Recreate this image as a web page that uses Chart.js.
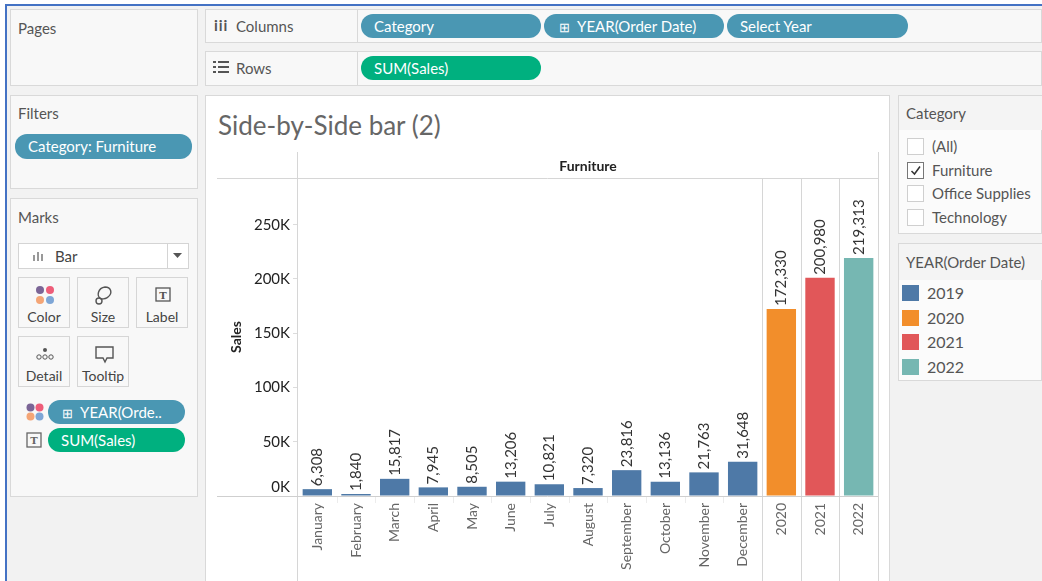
<!DOCTYPE html>
<html>
<head>
<meta charset="utf-8">
<script src="https://cdn.jsdelivr.net/npm/chart.js@4.4.1/dist/chart.umd.min.js"></script>
<style>
  html,body{margin:0;padding:0;}
  body{width:1042px;height:581px;overflow:hidden;background:#fff;position:relative;font-family:Lato,"Noto Sans",sans-serif;color:#555;}
  .frame{position:absolute;left:5px;top:4px;width:1037px;height:577px;border-left:2px solid #4472c4;border-top:2px solid #4472c4;background:#f2f2f2;box-sizing:border-box;}
  .panel{position:absolute;background:#f8f8f8;border:1px solid #d9d9d9;box-sizing:border-box;}
  .t{position:absolute;white-space:nowrap;line-height:1;}
  .pill{position:absolute;height:24px;border-radius:12px;color:#fff;font-size:15px;line-height:24px;box-sizing:border-box;padding-left:13px;white-space:nowrap;overflow:hidden;}
  .blue{background:#4a97b3;}
  .green{background:#00b07f;}
  .btn{position:absolute;width:52px;height:51px;border:1px solid #d6d6d6;background:#f8f8f8;box-sizing:border-box;text-align:center;font-size:14px;color:#444;}
  .btn .lab{position:absolute;left:0;right:0;top:32px;line-height:1;}
  .btn svg{position:absolute;left:16px;top:7px;}
  .cb{position:absolute;left:907px;width:17px;height:17px;background:#fff;border:1px solid #cfcfcf;box-sizing:border-box;}
  .sw{position:absolute;left:902px;width:17px;height:16px;}
  #chartBox{position:absolute;left:205px;top:95px;width:685px;height:486px;background:#fff;border:1px solid #d9d9d9;box-sizing:border-box;border-bottom:none;}
  canvas{position:absolute;left:205px;top:140px;}
</style>
</head>
<body>
<div class="frame"></div>

<!-- Pages -->
<div class="panel" style="left:10px;top:9px;width:188px;height:77px;"></div>
<div class="t" style="left:18px;top:21px;font-size:15px;">Pages</div>

<!-- Columns / Rows shelves -->
<div class="panel" style="left:205px;top:9px;width:153px;height:34px;"></div>
<div class="panel" style="left:357px;top:9px;width:685px;height:34px;"></div>
<div class="panel" style="left:205px;top:51px;width:153px;height:35px;"></div>
<div class="panel" style="left:357px;top:51px;width:685px;height:35px;"></div>
<div class="t" style="left:214px;top:18px;font-size:15px;font-weight:bold;color:#555;letter-spacing:1px;">iii</div>
<div class="t" style="left:236px;top:19px;font-size:15px;">Columns</div>
<svg style="position:absolute;left:213px;top:61px;" width="16" height="13"><g fill="#555"><rect x="0" y="0" width="3" height="2"/><rect x="5" y="0" width="11" height="2"/><rect x="0" y="5" width="3" height="2"/><rect x="5" y="5" width="11" height="2"/><rect x="0" y="10" width="3" height="2"/><rect x="5" y="10" width="11" height="2"/></g></svg>
<div class="t" style="left:236px;top:61px;font-size:15px;">Rows</div>
<div class="pill blue" style="left:361px;top:14px;width:180px;">Category</div>
<div class="pill blue" style="left:544px;top:14px;width:180px;padding-left:15px;"><span style="font-size:13px;">⊞</span>&nbsp; YEAR(Order Date)</div>
<div class="pill blue" style="left:727px;top:14px;width:181px;">Select Year</div>
<div class="pill green" style="left:361px;top:56px;width:180px;">SUM(Sales)</div>

<!-- Filters -->
<div class="panel" style="left:10px;top:95px;width:188px;height:94px;"></div>
<div class="t" style="left:18px;top:106px;font-size:15px;">Filters</div>
<div class="pill blue" style="left:15px;top:134px;width:177px;height:25px;">Category: Furniture</div>

<!-- Marks -->
<div class="panel" style="left:10px;top:198px;width:188px;height:299px;"></div>
<div class="t" style="left:18px;top:210px;font-size:15px;">Marks</div>
<div style="position:absolute;left:18px;top:243px;width:171px;height:26px;background:#fff;border:1px solid #d4d4d4;box-sizing:border-box;"></div>
<div style="position:absolute;left:167px;top:244px;width:1px;height:24px;background:#d4d4d4;"></div>
<svg style="position:absolute;left:33px;top:251px;" width="12" height="10"><g fill="#999"><rect x="0" y="4" width="2" height="6"/><rect x="4" y="1" width="2" height="9"/><rect x="8" y="3" width="2" height="7"/></g></svg>
<div class="t" style="left:55px;top:249px;font-size:15px;color:#444;">Bar</div>
<svg style="position:absolute;left:173px;top:253px;" width="9" height="6"><path d="M0 0 L9 0 L4.5 5 Z" fill="#555"/></svg>

<div class="btn" style="left:18px;top:277px;"><svg width="20" height="20"><circle cx="5" cy="5" r="4" fill="#7b6596"/><circle cx="15" cy="5" r="4" fill="#ee5d79"/><circle cx="5" cy="15" r="4" fill="#f4a576"/><circle cx="15" cy="15" r="4" fill="#7ea6d6"/></svg><div class="lab">Color</div></div>
<div class="btn" style="left:77px;top:277px;"><svg width="20" height="20"><path d="M7 14 C2 11 4 3 11 2 C17 2 19 8 14 12 C12 14 9 14 7 14 Z" fill="none" stroke="#555" stroke-width="1.4"/><circle cx="5" cy="16" r="3" fill="none" stroke="#555" stroke-width="1.4"/></svg><div class="lab">Size</div></div>
<div class="btn" style="left:136px;top:277px;"><svg width="20" height="20"><rect x="3" y="3" width="14" height="13" fill="none" stroke="#555" stroke-width="1.3"/><text x="10" y="14" text-anchor="middle" font-size="10" font-family="DejaVu Serif" fill="#555" font-weight="bold">T</text></svg><div class="lab">Label</div></div>
<div class="btn" style="left:18px;top:336px;"><svg width="20" height="20"><circle cx="10" cy="6" r="2" fill="#555"/><circle cx="4" cy="13" r="2.2" fill="none" stroke="#555" stroke-width="1"/><circle cx="10" cy="13" r="2.2" fill="none" stroke="#555" stroke-width="1"/><circle cx="16" cy="13" r="2.2" fill="none" stroke="#555" stroke-width="1"/></svg><div class="lab">Detail</div></div>
<div class="btn" style="left:77px;top:336px;"><svg width="22" height="20"><path d="M2 3 H19 V14 H13 L11 18 L9 14 H2 Z" fill="none" stroke="#555" stroke-width="1.4"/></svg><div class="lab">Tooltip</div></div>

<svg style="position:absolute;left:26px;top:403px;" width="18" height="18"><circle cx="4.5" cy="4.5" r="4" fill="#7b6596"/><circle cx="13.5" cy="4.5" r="4" fill="#ee5d79"/><circle cx="4.5" cy="13.5" r="4" fill="#f4a576"/><circle cx="13.5" cy="13.5" r="4" fill="#7ea6d6"/></svg>
<div class="pill blue" style="left:48px;top:400px;width:137px;padding-left:14px;"><span style="font-size:13px;">⊞</span>&nbsp; YEAR(Orde..</div>
<svg style="position:absolute;left:26px;top:432px;" width="17" height="17"><rect x="1" y="1" width="14" height="14" fill="none" stroke="#666" stroke-width="1.3"/><text x="8" y="12" text-anchor="middle" font-size="10" font-family="DejaVu Serif" fill="#666" font-weight="bold">T</text></svg>
<div class="pill green" style="left:48px;top:428px;width:137px;">SUM(Sales)</div>

<!-- Chart sheet -->
<div id="chartBox"></div>
<div class="t" style="left:218px;top:112px;font-size:26px;color:#666;">Side-by-Side bar (2)</div>
<canvas id="c" width="684" height="441"></canvas>

<!-- Category filter card -->
<div class="panel" style="left:898px;top:95px;width:144px;height:139px;background:#fbfbfb;"></div>
<div style="position:absolute;left:899px;top:96px;width:143px;height:34px;background:#f4f4f4;"></div>
<div class="t" style="left:906px;top:106px;font-size:15px;">Category</div>
<div id="catList"></div>

<!-- Year legend card -->
<div class="panel" style="left:898px;top:243px;width:144px;height:138px;background:#fbfbfb;"></div>
<div style="position:absolute;left:899px;top:244px;width:143px;height:36px;background:#f4f4f4;"></div>
<div class="t" style="left:906px;top:255px;font-size:15px;">YEAR(Order Date)</div>
<div id="legend"></div>

<script>
// ---- data ----
const months = ['January','February','March','April','May','June','July','August','September','October','November','December'];
const sales2019 = [6308, 1840, 15817, 7945, 8505, 13206, 10821, 7320, 23816, 13136, 21763, 31648];
const years = ['2020','2021','2022'];
const yearSales = [172330, 200980, 219313];
const legendYears = ['2019','2020','2021','2022'];
const yearColors = ['#4e79a7','#f28e2b','#e15759','#76b7b2'];
const categoryOptions = ['(All)','Furniture','Office Supplies','Technology'];
const selectedCategory = 'Furniture';
const yTicks = [0, 50000, 100000, 150000, 200000, 250000];
const yTickLabels = ['0K','50K','100K','150K','200K','250K'];
const yMax = 293000;

const FONT = 'Lato, "Noto Sans", sans-serif';
const TICK_FONT = '15px ' + FONT;
const TICK_COLOR = '#222';

// ---- side cards ----
const catList = document.getElementById('catList');
categoryOptions.forEach((c, i) => {
  const top = 138 + i * 23.6;
  const cb = document.createElement('div');
  cb.className = 'cb';
  cb.style.top = top + 'px';
  if (c === selectedCategory) {
    cb.style.border = '1px solid #777';
    cb.innerHTML = '<svg width="15" height="15" style="position:absolute;left:0;top:0"><path d="M3.5 8 L6.5 11 L12 3.5" fill="none" stroke="#333" stroke-width="1.5"/></svg>';
  }
  catList.appendChild(cb);
  const t = document.createElement('div');
  t.className = 't';
  t.style.cssText = 'left:932px;top:' + (top + 1) + 'px;font-size:15px;color:#555;';
  t.textContent = c;
  catList.appendChild(t);
});
const legend = document.getElementById('legend');
legendYears.forEach((y, i) => {
  const top = 285 + i * 24.6;
  const s = document.createElement('div');
  s.className = 'sw';
  s.style.top = top + 'px';
  s.style.background = yearColors[i];
  legend.appendChild(s);
  const t = document.createElement('div');
  t.className = 't';
  t.style.cssText = 'left:927px;top:' + (top) + 'px;font-size:16px;color:#555;';
  t.textContent = y;
  legend.appendChild(t);
});

// ---- chart data ----
const categories = months.concat(years);
const seriesData = [
  sales2019.concat(years.map(() => null)),
  ...years.map((y, k) => categories.map((c, j) => (j === months.length + k ? yearSales[k] : null)))
];

const framePlugin = {
  id: 'frame',
  beforeDatasetsDraw(chart) {
    const {ctx, chartArea: a, scales: {x, y}} = chart;
    const H = chart.height;
    ctx.save();
    ctx.lineWidth = 1;
    ctx.strokeStyle = '#d6d6d6';
    const line = (x1, y1, x2, y2) => { ctx.beginPath(); ctx.moveTo(x1, y1); ctx.lineTo(x2, y2); ctx.stroke(); };
    line(12, Math.round(a.top) + 0.5, a.right, Math.round(a.top) + 0.5);
    line(Math.round(a.left) - 0.5, 12, Math.round(a.left) - 0.5, H);
    line(Math.round(a.right) + 0.5, 12, Math.round(a.right) + 0.5, H);
    for (let k = months.length - 1; k < categories.length - 1; k++) {
      const xm = Math.round((x.getPixelForValue(k) + x.getPixelForValue(k + 1)) / 2) + 0.5;
      line(xm, a.top, xm, H);
    }
    ctx.strokeStyle = '#ececec';
    const y0 = y.getPixelForValue(0);
    for (let k = 0; k < months.length - 1; k++) {
      const xm = Math.round((x.getPixelForValue(k) + x.getPixelForValue(k + 1)) / 2) + 0.5;
      line(xm, y0, xm, y0 + 7);
    }
    ctx.strokeStyle = '#cfcfcf';
    line(12, Math.round(y0) + 0.5, a.right, Math.round(y0) + 0.5);
    // the 0K label sits just above the zero line (as in Tableau)
    ctx.fillStyle = TICK_COLOR;
    ctx.font = TICK_FONT;
    ctx.textAlign = 'right';
    ctx.textBaseline = 'middle';
    ctx.fillText(yTickLabels[0], a.left - 8, y0 - 9);
    ctx.fillStyle = '#222';
    ctx.font = 'bold 14px ' + FONT;
    ctx.textAlign = 'center';
    ctx.fillText('Furniture', (a.left + a.right) / 2, 26);
    ctx.restore();
  },
  afterDatasetsDraw(chart) {
    const {ctx} = chart;
    ctx.save();
    ctx.fillStyle = '#333';
    ctx.font = '15px ' + FONT;
    ctx.textAlign = 'left';
    ctx.textBaseline = 'middle';
    chart.data.datasets.forEach((ds, di) => {
      const meta = chart.getDatasetMeta(di);
      meta.data.forEach((el, j) => {
        const v = ds.data[j];
        if (v === null || v === undefined) return;
        ctx.save();
        ctx.translate(el.x, el.y - 3);
        ctx.rotate(-Math.PI / 2);
        ctx.fillText(v.toLocaleString('en-US'), 0, 0);
        ctx.restore();
      });
    });
    ctx.restore();
  }
};

new Chart(document.getElementById('c'), {
  type: 'bar',
  data: {
    labels: categories,
    datasets: legendYears.map((yr, i) => ({
      label: yr,
      data: seriesData[i],
      backgroundColor: yearColors[i],
      categoryPercentage: 1,
      barPercentage: 0.76
    }))
  },
  options: {
    responsive: false,
    animation: false,
    layout: {padding: {top: 38, right: 11, left: 0, bottom: 0}},
    plugins: {legend: {display: false}, tooltip: {enabled: false}},
    scales: {
      x: {
        stacked: true,
        grid: {display: false, drawTicks: false},
        border: {display: false},
        ticks: {autoSkip: false, maxRotation: 90, minRotation: 90, padding: 7, color: '#666', font: {family: FONT, size: 14}},
        afterFit(s) { s.height = 85; }
      },
      y: {
        stacked: true,
        min: 0,
        max: yMax,
        grid: {display: true, drawOnChartArea: false, tickLength: 5, tickColor: (c) => (c.tick && c.tick.value === 0 ? 'rgba(0,0,0,0)' : '#dcdcdc')},
        border: {display: false},
        afterBuildTicks(s) { s.ticks = yTicks.map(v => ({value: v})); },
        ticks: {padding: 3, color: TICK_COLOR, font: {family: FONT, size: 15},
          callback: (v) => (v === 0 ? '' : yTickLabels[yTicks.indexOf(v)])},
        title: {display: true, text: 'Sales', color: '#222', font: {family: FONT, size: 14, weight: 'bold'}, padding: {top: 23, bottom: 0}},
        afterFit(s) { s.width = 93; }
      }
    }
  },
  plugins: [framePlugin]
});
</script>
</body>
</html>
